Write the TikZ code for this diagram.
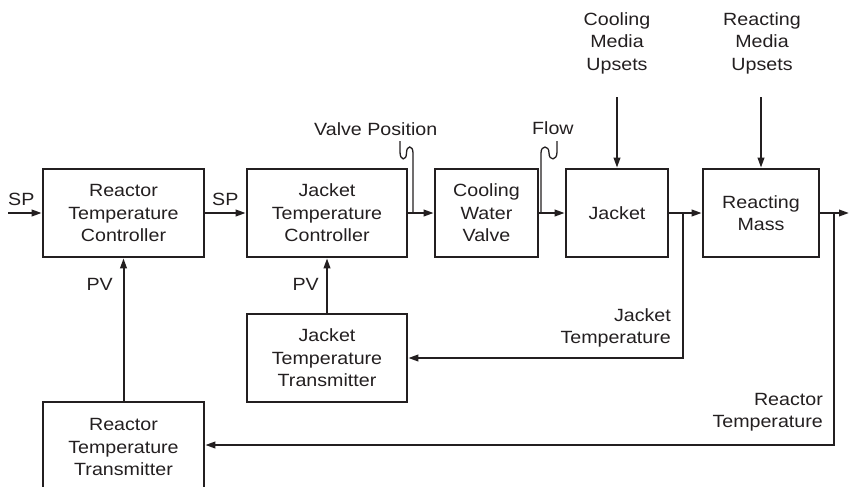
\documentclass[tikz,border=0pt]{standalone}
\usepackage{fontspec}
\setmainfont[FakeStretch=1.11]{Liberation Sans}
\usetikzlibrary{arrows.meta}
\newcommand\dfont{\fontsize{17.7}{22.5}\selectfont}
\definecolor{ink}{HTML}{231F20}
\begin{document}
\begin{tikzpicture}[x=1pt,y=-1pt,
  box/.style={draw=ink, text=ink, line width=2.6pt, inner sep=0pt, align=center, font=\dfont},
  lbl/.style={inner sep=0pt, text=ink, font=\dfont, align=center},
  conn/.style={draw=ink, line width=2pt, -{Triangle[length=10pt,width=6.5pt]}},
  wig/.style={draw=ink, line width=1.3pt},
]
\useasboundingbox (0,0) rectangle (849,487);

% blocks
\node[box, minimum width=161pt, minimum height=88pt] (rtc) at (123.5,213) {Reactor\\Temperature\\Controller};
\node[box, minimum width=160pt, minimum height=88pt] (jtc) at (327,213) {Jacket\\Temperature\\Controller};
\node[box, minimum width=103pt, minimum height=88pt] (cwv) at (486.5,213) {Cooling\\Water\\Valve};
\node[box, minimum width=102pt, minimum height=88pt] (jk) at (617,213) {Jacket};
\node[box, minimum width=116pt, minimum height=88pt] (rm) at (761,213) {Reacting\\Mass};
\node[box, minimum width=160pt, minimum height=88pt] (jtt) at (327,358) {Jacket\\Temperature\\Transmitter};
\node[box, minimum width=161pt, minimum height=90pt] (rtt) at (123.5,447) {Reactor\\Temperature\\Transmitter};

% free ends and junctions
\coordinate (spin) at (8,213);
\coordinate (out) at (849,213);
\coordinate (vp) at (413,213);
\coordinate (vptop) at (400,141);
\coordinate (fl) at (541,213);
\coordinate (fltop) at (557,141);
\coordinate (jt) at (683,213);
\coordinate (rt) at (834,213);
\coordinate (rtc2) at (834,445);
\coordinate (cu) at (617,97);
\coordinate (ru) at (761,97);

% connectors
\draw[conn] (spin) -- (rtc.west);
\draw[conn] (rtc.east) -- (jtc.west);
\draw[conn] (jtc.east) -- (cwv.west);
\draw[conn] (cwv.east) -- (jk.west);
\draw[conn] (jk.east) -- (rm.west);
\draw[conn] (rm.east) -- (out);
\draw[conn] (jt) |- (jtt.east);
\draw[conn] (rt) -- (rtc2) -- (rtc2 -| rtt.east);
\draw[conn] (jtt.north) -- (jtc.south);
\draw[conn] (rtt.north) -- (rtc.south);
\draw[conn] (cu) -- (jk.north);
\draw[conn] (ru) -- (rm.north);

% signal wiggles
\draw[wig] (vptop) -- (400,152) .. controls (400,161) and (406.5,161) .. (406.5,153)
  .. controls (406.5,145) and (413,145) .. (413,153) -- (vp);
\draw[wig] (fl) -- (541,153) .. controls (541,145) and (549,145) .. (549,153)
  .. controls (549,161) and (557,161) .. (557,152) -- (fltop);

% labels
\node[lbl, anchor=base west] (sp1) at (8,205) {SP};
\node[lbl, anchor=base west] (sp2) at (212,205) {SP};
\node[lbl, anchor=base west] (vpl) at (314,135) {Valve Position};
\node[lbl, anchor=base west] (fll) at (532,134) {Flow};
\node[lbl, anchor=north] (cmu) at (617,12) {Cooling\\Media\\Upsets};
\node[lbl, anchor=north] (rmu) at (762,12) {Reacting\\Media\\Upsets};
\node[lbl, anchor=base east] (pv1) at (113,290) {PV};
\node[lbl, anchor=base east] (pv2) at (319,290) {PV};
\node[lbl, anchor=north east, align=right] (jtl) at (671,308) {Jacket\\Temperature};
\node[lbl, anchor=north east, align=right] (rtl) at (823,393) {Reactor\\Temperature};
\end{tikzpicture}
\end{document}
